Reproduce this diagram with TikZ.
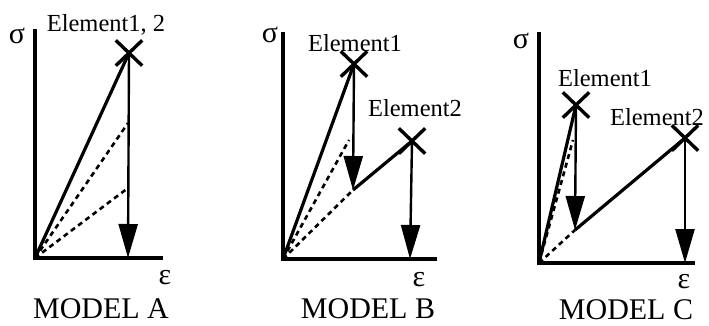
\documentclass[tikz,border=0pt]{standalone}
\usepackage{fontspec}
\setmainfont{Liberation Serif}
\usetikzlibrary{arrows.meta,shapes.misc}

\begin{document}
\begin{tikzpicture}[x=1pt,y=-1pt,every node/.style={font=\fontsize{24.5}{26}\selectfont,inner sep=0pt}]
   \tikzstyle{ax}=[line width=3.2pt];
   \tikzstyle{ld}=[line width=3.2pt];
   \tikzstyle{dl}=[line width=2.6pt,dash pattern=on 5pt off 4pt];
   \tikzstyle{dn}=[draw,-{Triangle[length=34pt,width=19pt]},line width=2.4pt];
   \tikzstyle{fail}=[cross out,draw,line width=3.4pt,minimum width=23pt,minimum height=22pt];
   \tikzstyle{mdl}=[font=\fontsize{30}{32}\selectfont];
   \tikzstyle{gk}=[font=\fontsize{30}{32}\selectfont];
   \useasboundingbox (0,0) rectangle (709,325);
   % model A
   \coordinate (oA) at (35,258);
   \coordinate (tA) at (35,29);
   \coordinate (rA) at (163,258);
   \coordinate (bA) at (128,258);
   \coordinate (dA1) at (128,123);
   \coordinate (dA2) at (128,188);
   \node[fail] (pA) at (129,53) {};
   \draw[ax] (tA) -- (oA) -- (rA);
   \draw[ld] (oA) -- (pA.center);
   \draw[dl] (oA) -- (dA1);
   \draw[dl] (oA) -- (dA2);
   \draw[dn] (pA.center) -- (bA);
   \node[gk] (sA) at (17,36) {σ};
   \node (eA) at (106,25) {Element1, 2};
   \node[gk] (xA) at (165,278) {ε};
   \node[mdl] (mA) at (101,309) {MODEL A};
   % model B
   \coordinate (oB) at (283,259);
   \coordinate (tB) at (283,32);
   \coordinate (rB) at (437,259);
   \coordinate (kB) at (353,190);
   \coordinate (bB) at (410,259);
   \coordinate (dB1) at (349,140);
   \node[fail] (pB1) at (354,64) {};
   \node[fail] (pB2) at (412,141) {};
   \draw[ax] (tB) -- (oB) -- (rB);
   \draw[ld] (oB) -- (pB1.center);
   \draw[ld] (kB) -- (pB2.center);
   \draw[dl] (oB) -- (dB1);
   \draw[dl] (oB) -- (kB);
   \draw[dn] (pB1.center) -- (kB);
   \draw[dn] (pB2.center) -- (bB);
   \node[gk] (sB) at (270,35) {σ};
   \node (eB1) at (355,43) {Element1};
   \node (eB2) at (415,108) {Element2};
   \node[gk] (xB) at (419,280) {ε};
   \node[mdl] (mB) at (368,309) {MODEL B};
   % model C
   \coordinate (oC) at (539,263);
   \coordinate (tC) at (539,32);
   \coordinate (rC) at (695,263);
   \coordinate (kC) at (575,230);
   \coordinate (bC) at (685,263);
   \coordinate (dC1) at (573,140);
   \node[fail] (pC1) at (576,105) {};
   \node[fail] (pC2) at (685,138) {};
   \draw[ax] (tC) -- (oC) -- (rC);
   \draw[ld] (oC) -- (pC1.center);
   \draw[ld] (kC) -- (pC2.center);
   \draw[dl] (oC) -- (dC1);
   \draw[dl] (oC) -- (kC);
   \draw[dn] (pC1.center) -- (kC);
   \draw[dn] (pC2.center) -- (bC);
   \node[gk] (sC) at (521,41) {σ};
   \node (eC1) at (605,78) {Element1};
   \node (eC2) at (657,117) {Element2};
   \node[gk] (xC) at (684,282) {ε};
   \node[mdl] (mC) at (626,310) {MODEL C};
\end{tikzpicture}
\end{document}
